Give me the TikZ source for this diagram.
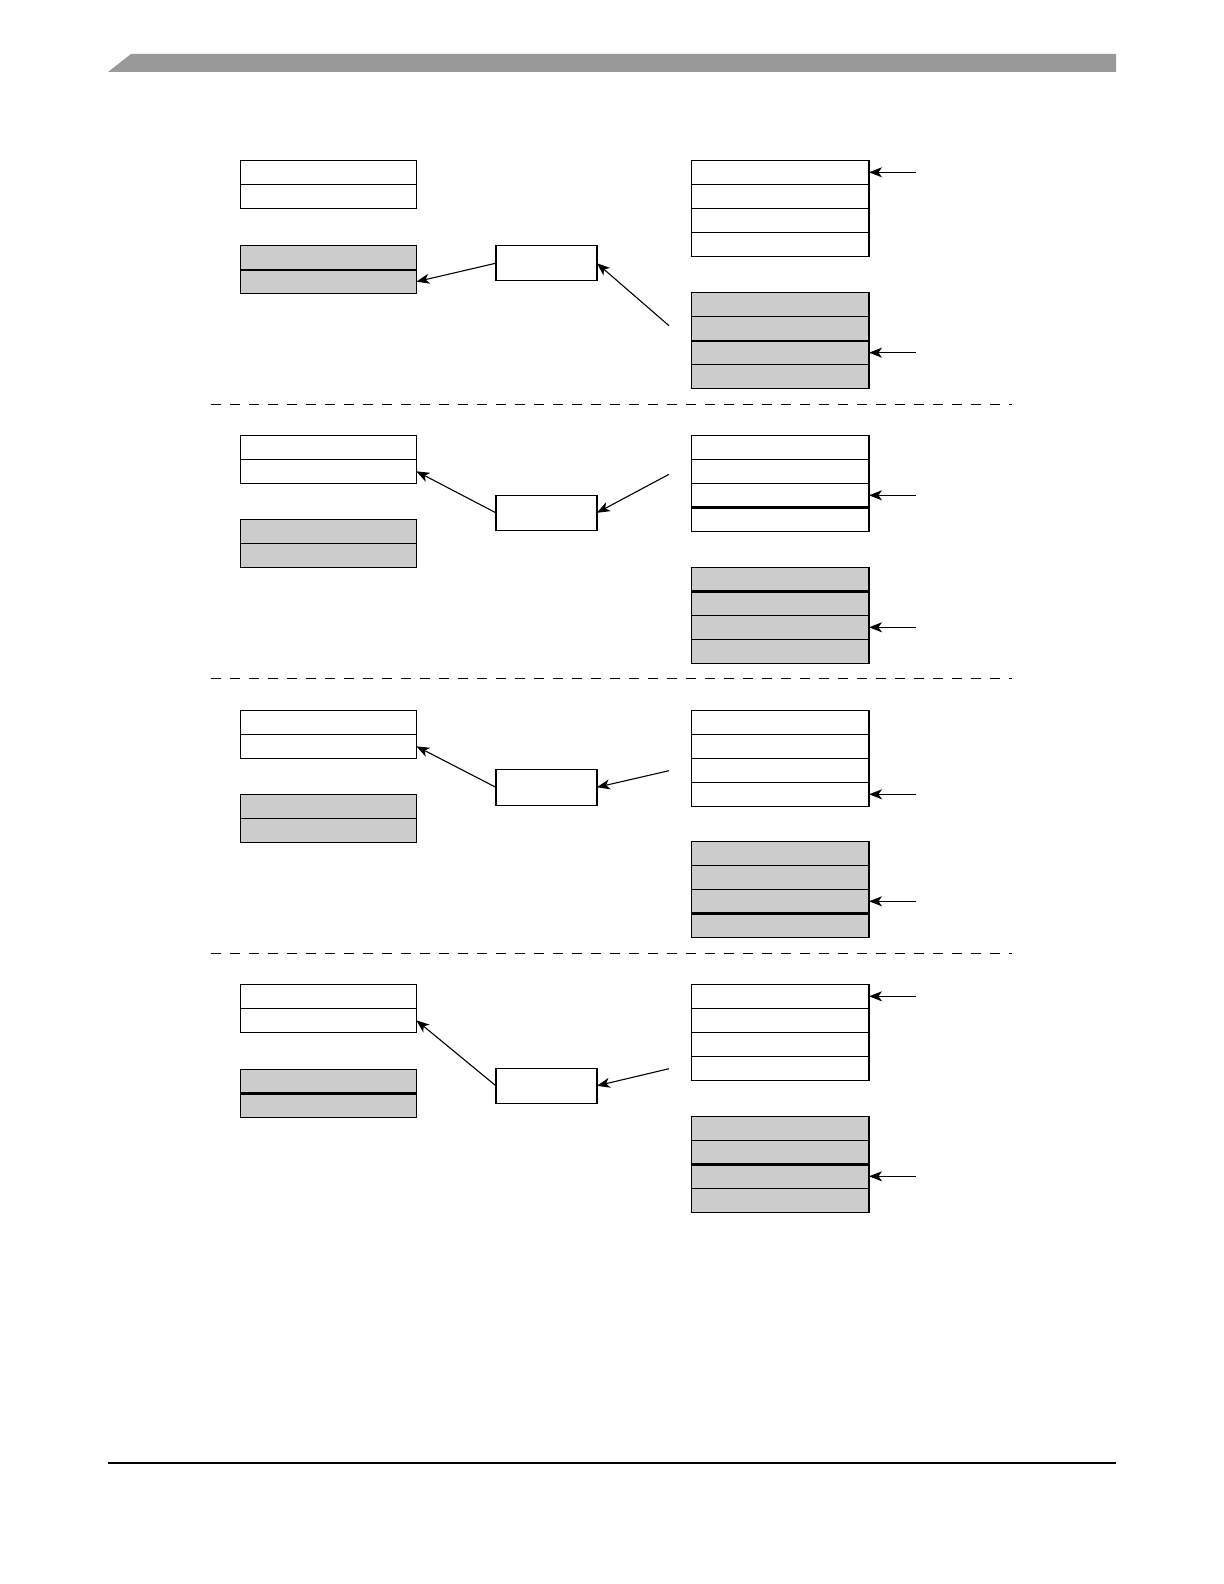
\documentclass[tikz,border=0pt]{standalone}
\usetikzlibrary{arrows.meta}
\definecolor{cellgray}{HTML}{CCCCCC}
\definecolor{bargray}{HTML}{999999}
\newcommand{\cellstack}[5]{%
  \foreach \i in {1,...,#4}{\node[#5] (#1-\i) at (#2,{#3+(\i-1)*24}) {};}%
}
\begin{document}
\begin{tikzpicture}[x=0.5pt,y=-0.5pt,
  cell/.style={draw,line width=0.6pt,inner sep=0pt,outer sep=0pt,minimum height=12pt,minimum width=88pt,anchor=north west},
  wcell/.style={cell,fill=white},
  gcell/.style={cell,fill=cellgray},
  rwcell/.style={wcell,minimum width=88.6pt},
  rgcell/.style={gcell,minimum width=88.6pt},
  midbox/.style={draw,line width=0.6pt,inner sep=0pt,outer sep=0pt,minimum width=50.5pt,minimum height=17.5pt,anchor=north west,fill=white},
  sepline/.style={line width=1.2pt},
  arr/.style={-{Stealth[length=6.5pt,width=5pt,inset=1.8pt]},line width=0.55pt},
  divider/.style={line width=0.5pt,dash pattern=on 5pt off 4.5pt}]
\useasboundingbox (0,0) rectangle (1224,1584);
% header bar and footer rule
\fill[bargray] (108,72) -- (131,54) -- (1116,54) -- (1116,72) -- cycle;
\draw[line width=0.7pt] (108,1463) -- (1116,1463);
% dividers
\draw[divider] (211,404) -- (1012,404);
\draw[divider] (211,678.5) -- (1012,678.5);
\draw[divider] (211,953) -- (1012,953);

% ---------- Panel 1 ----------
\cellstack{l1w}{240.4}{160.3}{2}{wcell}
\cellstack{l1g}{240.4}{245.7}{2}{gcell}
\node[midbox] (m1) at (495.9,245.7) {};
\cellstack{r1w}{691.8}{160.3}{4}{rwcell}
\cellstack{r1g}{691.8}{292.7}{4}{rgcell}
\draw[sepline] (l1g-1.south west) -- (l1g-1.south east);
\draw[sepline] (r1g-2.south west) -- (r1g-2.south east);
\coordinate (p1a) at (916,172.3);
\coordinate (p1b) at (916,352.7);
\coordinate (p1c) at (669,325.7);
\draw[arr] (p1a) -- (r1w-1.east);
\draw[arr] (p1b) -- (r1g-3.east);
\draw[arr] (m1.west) -- (l1g-2.east);
\draw[arr] (p1c) -- (m1.east);

% ---------- Panel 2 ----------
\cellstack{l2w}{240.4}{435.3}{2}{wcell}
\cellstack{l2g}{240.4}{519.3}{2}{gcell}
\node[midbox] (m2) at (495.9,495.3) {};
\cellstack{r2w}{691.8}{435.3}{4}{rwcell}
\cellstack{r2g}{691.8}{567.3}{4}{rgcell}
\draw[sepline] (r2w-3.south west) -- (r2w-3.south east);
\draw[sepline] (r2g-1.south west) -- (r2g-1.south east);
\coordinate (p2a) at (916,495.3);
\coordinate (p2b) at (916,627.3);
\coordinate (p2c) at (669,474.3);
\draw[arr] (p2a) -- (r2w-3.east);
\draw[arr] (p2b) -- (r2g-3.east);
\draw[arr] (m2.west) -- (l2w-2.east);
\draw[arr] (p2c) -- (m2.east);

% ---------- Panel 3 ----------
\cellstack{l3w}{240.4}{710.3}{2}{wcell}
\cellstack{l3g}{240.4}{794.3}{2}{gcell}
\node[midbox,minimum height=18pt] (m3) at (495.9,769.3) {};
\cellstack{r3w}{691.8}{710.3}{4}{rwcell}
\cellstack{r3g}{691.8}{841.3}{4}{rgcell}
\draw[sepline] (r3g-3.south west) -- (r3g-3.south east);
\coordinate (p3a) at (916,794.3);
\coordinate (p3b) at (916,901.3);
\coordinate (p3c) at (669,770.7);
\draw[arr] (p3a) -- (r3w-4.east);
\draw[arr] (p3b) -- (r3g-3.east);
\draw[arr] (m3.west) -- (l3w-2.east);
\draw[arr] (p3c) -- (m3.east);

% ---------- Panel 4 ----------
\cellstack{l4w}{240.4}{984.3}{2}{wcell}
\cellstack{l4g}{240.4}{1069.3}{2}{gcell}
\node[midbox] (m4) at (495.9,1068.3) {};
\cellstack{r4w}{691.8}{984.3}{4}{rwcell}
\cellstack{r4g}{691.8}{1116.3}{4}{rgcell}
\draw[sepline] (l4g-1.south west) -- (l4g-1.south east);
\draw[sepline] (r4g-2.south west) -- (r4g-2.south east);
\coordinate (p4a) at (916,996.3);
\coordinate (p4b) at (916,1176.3);
\coordinate (p4c) at (669,1068.7);
\draw[arr] (p4a) -- (r4w-1.east);
\draw[arr] (p4b) -- (r4g-3.east);
\draw[arr] (m4.west) -- (l4w-2.east);
\draw[arr] (p4c) -- (m4.east);
\end{tikzpicture}
\end{document}
